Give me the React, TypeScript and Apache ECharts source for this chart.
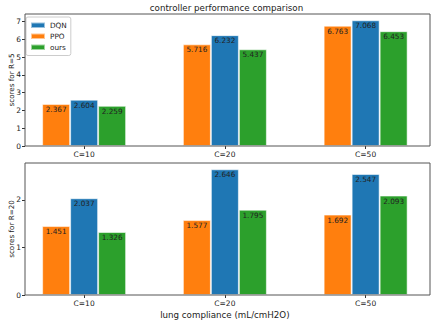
import React, { useEffect, useRef } from "react";
import * as echarts from "echarts";

const categories = ["C=10", "C=20", "C=50"];
const legendOrder = ["DQN", "PPO", "ours"];
const r5PPO = [2.367, 5.716, 6.763];
const r5DQN = [2.604, 6.232, 7.068];
const r5Ours = [2.259, 5.437, 6.453];
const r20PPO = [1.451, 1.577, 1.692];
const r20DQN = [2.037, 2.646, 2.547];
const r20Ours = [1.326, 1.795, 2.093];
const topTicks = [0, 1, 2, 3, 4, 5, 6, 7];
const bottomTicks = [0, 1, 2];
const topMax = 7.42;
const bottomMax = 2.778;

const colors: Record<string, string> = {
  PPO: "#ff7f0e",
  DQN: "#1f77b4",
  ours: "#2ca02c",
};

const FONT = "DejaVu Sans";

export default function App() {
  const ref = useRef<HTMLDivElement>(null);
  useEffect(() => {
    if (!ref.current) return;
    const chart = echarts.init(ref.current, undefined, { renderer: "svg" });

    const frameLeft = 23;
    const frameWidth = 407;
    const catLeft = 13.75;
    const catWidth = 427.5;
    const topTop = 14;
    const botTop = 163;
    const h = 132;

    const makeBars = (name: string, data: number[], idx: number) => ({
      type: "bar",
      name,
      xAxisIndex: idx,
      yAxisIndex: idx,
      data,
      barWidth: 28,
      barGap: "0%",
      itemStyle: {
        color: colors[name],
        borderColor: "rgba(255,255,255,0.55)",
        borderWidth: 1,
      },
      label: {
        show: true,
        position: "insideTop",
        distance: 2,
        formatter: (p: any) => Number(p.value).toFixed(3),
        fontSize: 7.3,
        fontFamily: FONT,
        color: "#222",
      },
      z: 2,
    });

    const catAxis = (gridIndex: number, extra: any = {}) => ({
      type: "category",
      gridIndex,
      data: categories,
      axisLine: { show: false },
      axisTick: { show: true, alignWithLabel: true, length: 3, lineStyle: { color: "#333" } },
      axisLabel: { fontSize: 7.5, fontFamily: FONT, color: "#222", margin: 4 },
      splitLine: { show: false },
      ...extra,
    });

    const hiddenX = (gridIndex: number) => ({
      type: "value",
      gridIndex,
      min: 0,
      max: 1,
      show: false,
    });

    const hiddenY = (gridIndex: number, max: number) => ({
      type: "value",
      gridIndex,
      min: 0,
      max,
      show: false,
    });

    const visY = (gridIndex: number, max: number, ticks: number[], name: string) => ({
      type: "value",
      gridIndex,
      min: 0,
      max,
      name,
      nameLocation: "middle",
      nameGap: 10,
      nameMoveOverlap: false,
      nameTextStyle: { fontSize: 7.2, fontFamily: FONT, color: "#222" },
      axisLine: { show: false },
      axisTick: {
        show: true,
        length: 3,
        lineStyle: { color: "#333" },
        customValues: ticks,
      },
      axisLabel: {
        fontSize: 7.5,
        fontFamily: FONT,
        color: "#222",
        margin: 4,
        hideOverlap: false,
        customValues: ticks,
      },
      splitLine: { show: false },
    });

    chart.setOption({
      animation: false,
      backgroundColor: "#fff",
      title: {
        text: "controller performance comparison",
        left: 226.5,
        textAlign: "center",
        top: 3,
        padding: 0,
        textStyle: { fontSize: 8.7, fontWeight: "normal", fontFamily: FONT, color: "#222" },
      },
      legend: {
        data: legendOrder,
        orient: "vertical",
        left: 26,
        top: 17,
        padding: [4, 4, 4, 4],
        itemWidth: 14,
        itemHeight: 5.5,
        itemGap: 2.5,
        icon: "rect",
        backgroundColor: "rgba(255,255,255,0.85)",
        borderColor: "#ccc",
        borderWidth: 1,
        borderRadius: 2,
        textStyle: { fontSize: 7.3, fontFamily: FONT, color: "#222", lineHeight: 8.5 },
        selectedMode: false,
      },
      grid: [
        { left: catLeft, width: catWidth, top: topTop, height: h },
        {
          left: frameLeft,
          width: frameWidth,
          top: topTop,
          height: h,
          show: true,
          borderColor: "#555",
          borderWidth: 1,
          backgroundColor: "transparent",
          z: 5,
        },
        { left: catLeft, width: catWidth, top: botTop, height: h },
        {
          left: frameLeft,
          width: frameWidth,
          top: botTop,
          height: h,
          show: true,
          borderColor: "#555",
          borderWidth: 1,
          backgroundColor: "transparent",
          z: 5,
        },
      ],
      xAxis: [
        catAxis(0),
        hiddenX(1),
        catAxis(2, {
          name: "lung compliance (mL/cmH2O)",
          nameLocation: "middle",
          nameGap: 15.5,
          nameTextStyle: { fontSize: 8.7, fontFamily: FONT, color: "#222" },
        }),
        hiddenX(3),
      ],
      yAxis: [
        hiddenY(0, topMax),
        visY(1, topMax, topTicks, "scores for R=5"),
        hiddenY(2, bottomMax),
        visY(3, bottomMax, bottomTicks, "scores for R=20"),
      ],
      series: [
        makeBars("PPO", r5PPO, 0),
        makeBars("DQN", r5DQN, 0),
        makeBars("ours", r5Ours, 0),
        makeBars("PPO", r20PPO, 2),
        makeBars("DQN", r20DQN, 2),
        makeBars("ours", r20Ours, 2),
      ],
    });
    return () => chart.dispose();
  }, []);

  return (
    <div
      ref={ref}
      style={{ position: "fixed", left: 0, top: 0, width: 436, height: 322 }}
    />
  );
}
